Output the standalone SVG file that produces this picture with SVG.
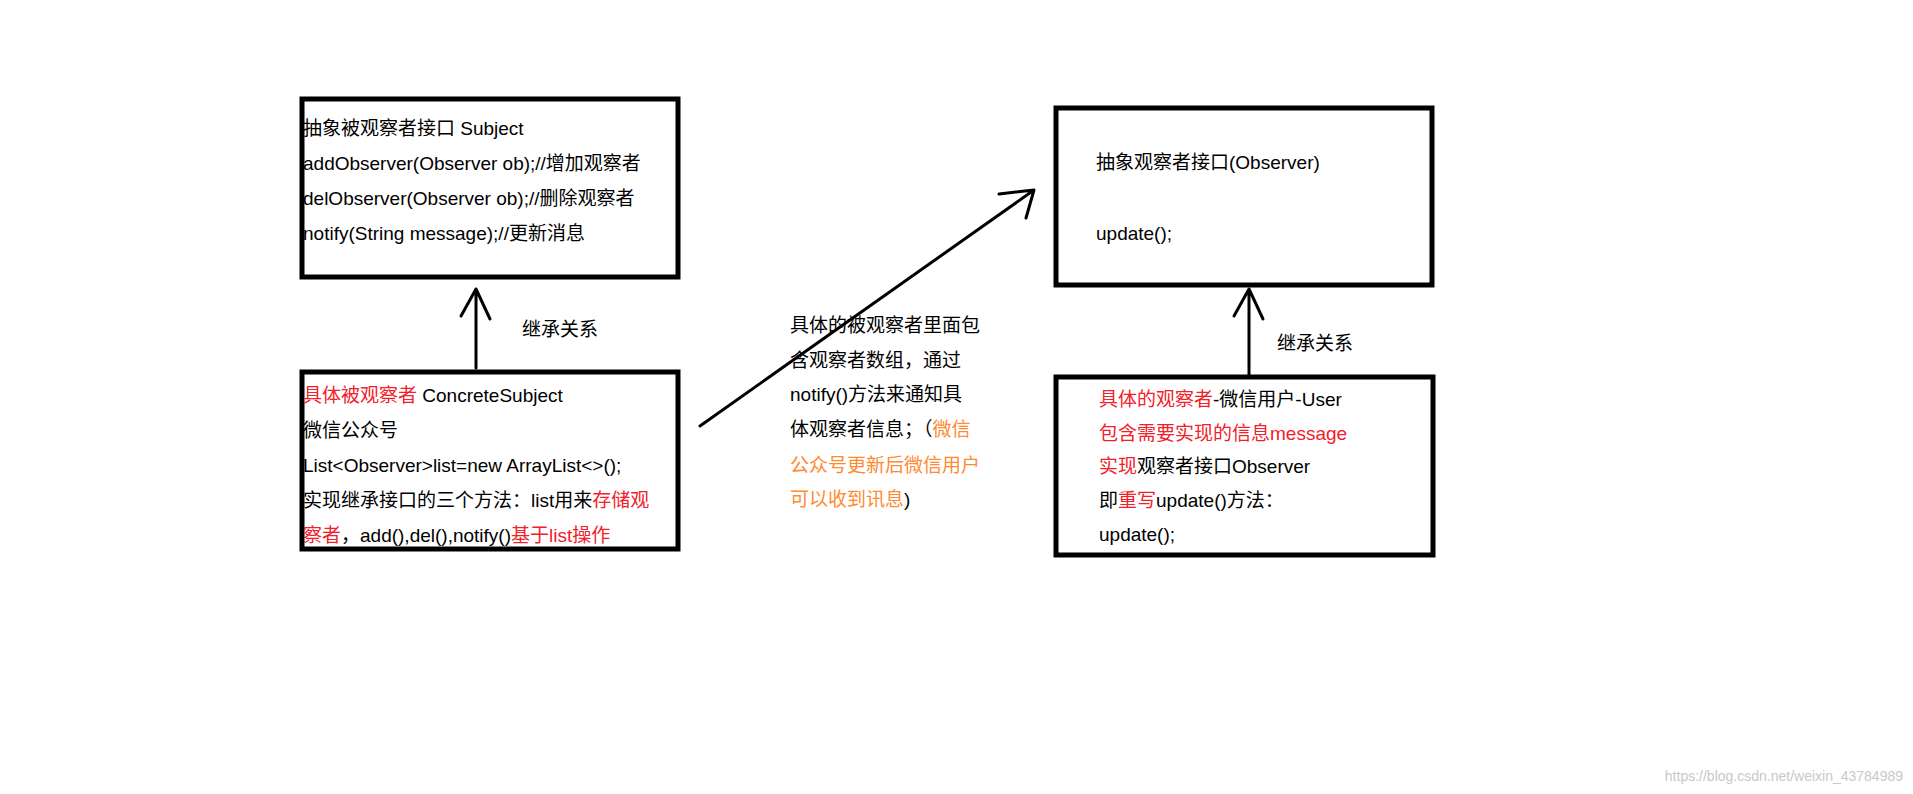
<svg xmlns="http://www.w3.org/2000/svg" width="1913" height="794" viewBox="0 0 1913 794">
<style>
text{font-family:"Liberation Sans","Noto Sans CJK SC",sans-serif;font-size:19px;fill:#000;dominant-baseline:central}
.box{fill:none;stroke:#000;stroke-width:5}
.ln{fill:none;stroke:#000;stroke-width:3;stroke-linecap:round;stroke-linejoin:round}
.r{fill:#f2202a}.o{fill:#ff8a30}
</style>
<rect width="1913" height="794" fill="#fff"/>
<g id="subject">
<rect class="box" x="302" y="99" width="376" height="178"/>
<text x="303" y="128">抽象被观察者接口 Subject</text>
<text x="303" y="163">addObserver(Observer ob);//增加观察者</text>
<text x="303" y="198">delObserver(Observer ob);//删除观察者</text>
<text x="303" y="233">notify(String message);//更新消息</text>
</g>
<g id="concrete">
<rect class="box" x="302" y="372" width="376" height="177"/>
<text x="303" y="395"><tspan class="r">具体被观察者</tspan> ConcreteSubject</text>
<text x="303" y="430">微信公众号</text>
<text x="303" y="465">List&lt;Observer&gt;list=new ArrayList&lt;&gt;();</text>
<text x="303" y="500">实现继承接口的三个方法：list用来<tspan class="r">存储观</tspan></text>
<text x="303" y="535"><tspan class="r">察者</tspan>，add(),del(),notify()<tspan class="r">基于list操作</tspan></text>
</g>
<g id="observer">
<rect class="box" x="1056" y="108" width="376" height="177"/>
<text x="1096" y="162">抽象观察者接口(Observer)</text>
<text x="1096" y="233">update();</text>
</g>
<g id="user">
<rect class="box" x="1056" y="377" width="377" height="178"/>
<text x="1099" y="399"><tspan class="r">具体的观察者</tspan>-微信用户-User</text>
<text x="1099" y="433" class="r">包含需要实现的信息message</text>
<text x="1099" y="466"><tspan class="r">实现</tspan>观察者接口Observer</text>
<text x="1099" y="500">即<tspan class="r">重写</tspan>update()方法：</text>
<text x="1099" y="534">update();</text>
</g>
<g id="note">
<text x="790" y="325">具体的被观察者里面包</text>
<text x="790" y="360">含观察者数组，通过</text>
<text x="790" y="394">notify()方法来通知具</text>
<text x="790" y="429">体观察者信息；（<tspan class="o">微信</tspan></text>
<text x="790" y="465" class="o">公众号更新后微信用户</text>
<text x="790" y="499"><tspan class="o">可以收到讯息</tspan>)</text>
</g>
<g id="connectors">
<path class="ln" d="M476 368V289M461 316L476 289L490 319"/>
<text x="522" y="329">继承关系</text>
<path class="ln" d="M1249 375V289M1234 316L1249 289L1263 319"/>
<text x="1277" y="343">继承关系</text>
<path class="ln" d="M700 426L1034 190M999 194L1034 190L1026 218"/>
</g>
<text x="1903" y="776" text-anchor="end" style="font-size:14px;fill:#c8c8c8">https://blog.csdn.net/weixin_43784989</text>
</svg>
